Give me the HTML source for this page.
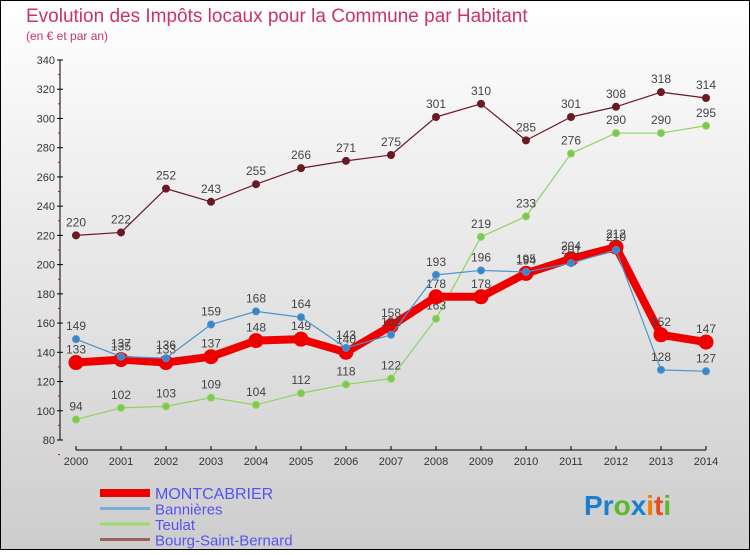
<!DOCTYPE html>
<html><head><meta charset="utf-8"><style>
html,body{margin:0;padding:0}
body{width:750px;height:550px;overflow:hidden;font-family:"Liberation Sans",sans-serif}
</style></head><body>
<svg id="chart" width="750" height="550" xmlns="http://www.w3.org/2000/svg" font-family="Liberation Sans, sans-serif">
<defs><linearGradient id="bg" x1="0" y1="0" x2="0" y2="1"><stop offset="0" stop-color="#ffffff"/><stop offset="1" stop-color="#cdcdcd"/></linearGradient></defs>
<rect x="0.5" y="0.5" width="749" height="549" fill="url(#bg)" stroke="#000"/>
<text x="26" y="22" font-size="19" fill="#cc3366">Evolution des Impôts locaux pour la Commune par Habitant</text>
<text x="26" y="40" font-size="12" fill="#cc3366">(en € et par an)</text>
<g id="axes"></g>
<g id="series"></g>
<g id="legend"></g>
<text x="584" y="515" font-size="28" font-weight="bold"><tspan fill="#1a7fd0">Pr</tspan><tspan fill="#5cb82e">o</tspan><tspan fill="#1a7fd0">x</tspan><tspan fill="#f07d00">i</tspan><tspan fill="#e84c1a">t</tspan><tspan fill="#5cb82e">i</tspan></text>
</svg>
<script>
const years=[2000,2001,2002,2003,2004,2005,2006,2007,2008,2009,2010,2011,2012,2013,2014];
const yTicks=[80,100,120,140,160,180,200,220,240,260,280,300,320,340];
const montcabrier=[133,135,133,137,148,149,140,158,178,178,194,204,212,152,147];
const bannieres=[149,137,136,159,168,164,143,152,193,196,195,201,210,128,127];
const teulat=[94,102,103,109,104,112,118,122,163,219,233,276,290,290,295];
const bourg=[220,222,252,243,255,266,271,275,301,310,285,301,308,318,314];
const seriesNames=["MONTCABRIER","Bannières","Teulat","Bourg-Saint-Bernard"];
const NS="http://www.w3.org/2000/svg";
const xs=i=>76+i*(706-76)/(years.length-1);
const ys=v=>440-(v-80)*(380/260);
function mk(tag,attrs,parent){const e=document.createElementNS(NS,tag);for(const k in attrs)e.setAttribute(k,attrs[k]);parent.appendChild(e);return e;}
const ax=document.getElementById('axes');
let yl=mk('line',{x1:60,y1:60,x2:60,y2:440,stroke:'#000'},ax);


yTicks.forEach(t=>{const y=ys(t);
mk('line',{x1:57,y1:y,x2:63,y2:y,stroke:'#000'},ax);
mk('line',{x1:58,y1:y+14.6,x2:60,y2:y+14.6,stroke:'#e00'},ax);
const tx=mk('text',{x:55,y:y+4,'font-size':11,fill:'#333','text-anchor':'end'},ax);
tx.textContent=t;

});
let xl=mk('line',{x1:76,y1:450,x2:706,y2:450,stroke:'#000'},ax);


years.forEach((yr,i)=>{const x=xs(i);
mk('line',{x1:x,y1:446,x2:x,y2:450,stroke:'#000'},ax);
const tx=mk('text',{x:x,y:465,'font-size':11,fill:'#333','text-anchor':'middle'},ax);
tx.textContent=yr;

});
const sg=document.getElementById('series');
function drawSeries(data,color,dot,lw,r,name){
const g=mk('g',{},sg);


const pts=data.map((v,i)=>xs(i)+','+ys(v)).join(' ');
mk('polyline',{points:pts,fill:'none',stroke:color,'stroke-width':lw,'stroke-linejoin':'round'},g);
data.forEach((v,i)=>{
const c=mk('circle',{cx:xs(i),cy:ys(v),r:r,fill:dot,stroke:color,'stroke-width':1},g);


const t=mk('text',{x:xs(i),y:ys(v)-9,'font-size':12,fill:'#444','text-anchor':'middle'},g);
t.textContent=v;

});}
drawSeries(bourg,'#6b1a24','#6b1a24',1.2,3.5,'series-bourg-saint-bernard');
drawSeries(teulat,'#8fd45f','#7ec850',1.2,3.5,'series-teulat');
drawSeries(montcabrier,'#ee0000','#ee0000',8,7,'series-montcabrier');
drawSeries(bannieres,'#4a94cc','#3a86c8',1.2,3.5,'series-bannieres');
const lg=document.getElementById('legend');
const lcol=['#ee0000','#7aaed4','#9cdc6a','#9a6060'];
const lw=[8,3,3,3];
seriesNames.forEach((n,i)=>{const y=493+i*15.5;
const g=mk('g',{},lg);


mk('line',{x1:100,y1:y,x2:150,y2:y,stroke:lcol[i],'stroke-width':lw[i]},g);
const t=mk('text',{x:155,y:y+6,'font-size':i==0?16:15,fill:'#5555ee'},g);
t.textContent=n;});
</script>
</body></html>
